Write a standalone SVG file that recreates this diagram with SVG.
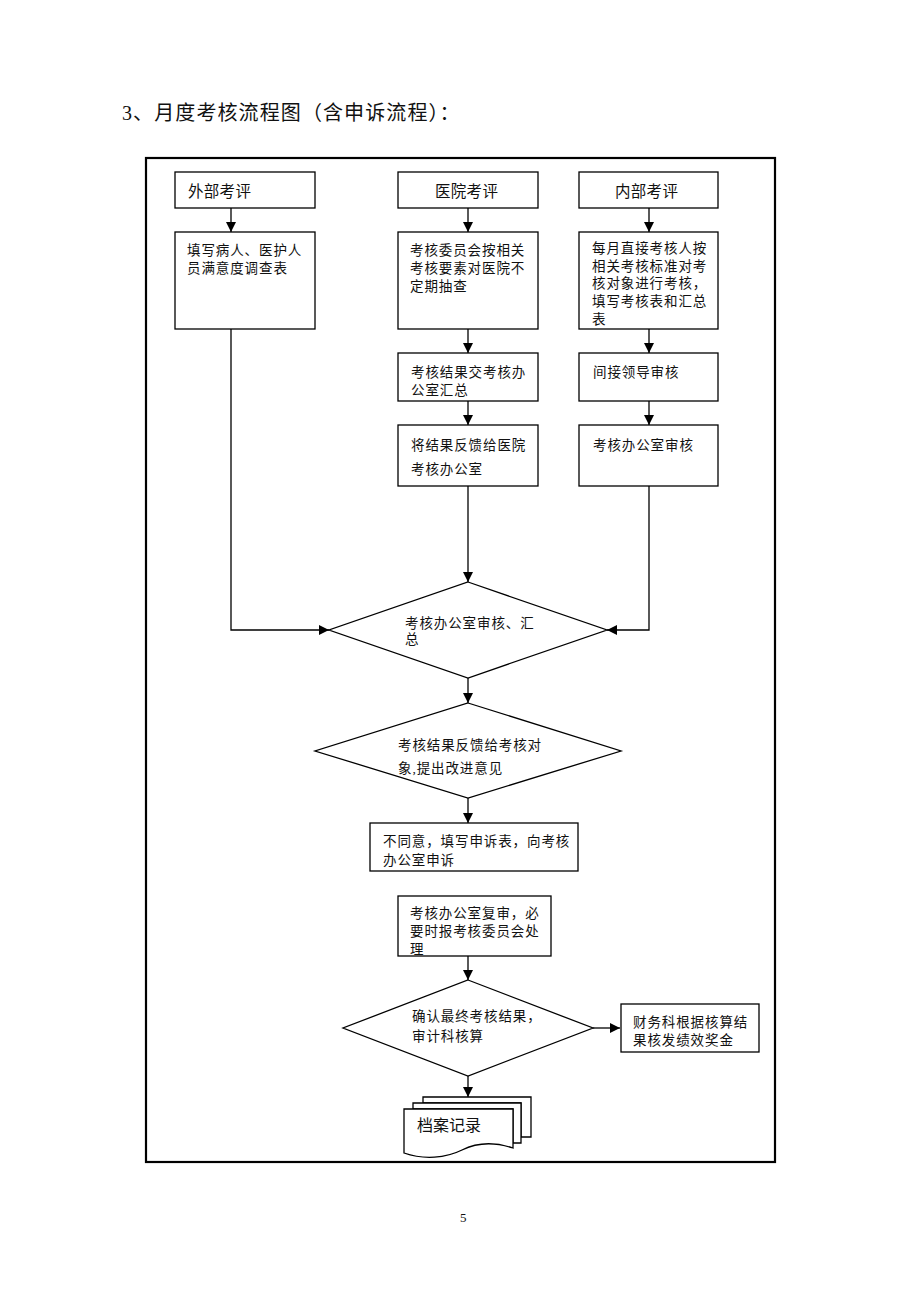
<svg xmlns="http://www.w3.org/2000/svg" width="920" height="1302" viewBox="0 0 920 1302">
<style>
.box{fill:#fff;stroke:#000;stroke-width:1.3}
.frame{fill:none;stroke:#000;stroke-width:2.2}
.ln{fill:none;stroke:#000;stroke-width:1.3}
.t{font-family:"Liberation Serif","Noto Sans CJK SC",serif;font-size:13.5px;letter-spacing:0.9px;fill:#111}
.h{font-family:"Liberation Serif","Noto Sans CJK SC",serif;font-size:15.5px;letter-spacing:0.3px;fill:#111}
.title{font-family:"Liberation Serif","Noto Sans CJK SC",serif;font-size:20px;letter-spacing:1.1px;fill:#111}
</style>
<defs>
<marker id="ah" viewBox="0 0 10 10" refX="10" refY="5" markerWidth="10" markerHeight="10" markerUnits="userSpaceOnUse" orient="auto">
<path d="M0,0 L10,5 L0,10 Z" fill="#000"/>
</marker>
</defs>
<rect width="920" height="1302" fill="#fff"/>
<text class="title" x="122" y="120">3、月度考核流程图（含申诉流程）：</text>
<rect class="frame" x="146" y="158" width="629" height="1004"/>

<g id="connectors">
<line class="ln" x1="231" y1="208" x2="231" y2="232" marker-end="url(#ah)"/>
<line class="ln" x1="468" y1="208" x2="468" y2="232" marker-end="url(#ah)"/>
<line class="ln" x1="649" y1="208" x2="649" y2="232" marker-end="url(#ah)"/>
<line class="ln" x1="468" y1="329" x2="468" y2="353" marker-end="url(#ah)"/>
<line class="ln" x1="649" y1="329" x2="649" y2="353" marker-end="url(#ah)"/>
<line class="ln" x1="468" y1="401" x2="468" y2="425" marker-end="url(#ah)"/>
<line class="ln" x1="649" y1="401" x2="649" y2="425" marker-end="url(#ah)"/>
<polyline class="ln" points="231,329 231,630 329,630" marker-end="url(#ah)"/>
<polyline class="ln" points="649,486 649,630 607,630" marker-end="url(#ah)"/>
<line class="ln" x1="468" y1="486" x2="468" y2="582" marker-end="url(#ah)"/>
<line class="ln" x1="468" y1="678" x2="468" y2="703" marker-end="url(#ah)"/>
<line class="ln" x1="468" y1="798" x2="468" y2="823" marker-end="url(#ah)"/>
<line class="ln" x1="468" y1="956" x2="468" y2="980" marker-end="url(#ah)"/>
<line class="ln" x1="593" y1="1028" x2="620" y2="1028" marker-end="url(#ah)"/>
<line class="ln" x1="468" y1="1076" x2="468" y2="1097" marker-end="url(#ah)"/>
</g>

<g id="n-waibu"><rect class="box" x="175" y="172" width="140" height="36"/><text class="h" x="188" y="197">外部考评</text></g>
<g id="n-yiyuan"><rect class="box" x="398" y="172" width="140" height="36"/><text class="h" x="435" y="197">医院考评</text></g>
<g id="n-neibu"><rect class="box" x="579" y="172" width="139" height="36"/><text class="h" x="615" y="197">内部考评</text></g>

<g id="n-tianxie"><rect class="box" x="175" y="232" width="140" height="97"/>
<text class="t" x="187" y="255">填写病人、医护人</text>
<text class="t" x="187" y="273">员满意度调查表</text></g>

<g id="n-weiyuanhui"><rect class="box" x="398" y="232" width="140" height="97"/>
<text class="t" x="410" y="255">考核委员会按相关</text>
<text class="t" x="410" y="273">考核要素对医院不</text>
<text class="t" x="410" y="291">定期抽查</text></g>

<g id="n-meiyue"><rect class="box" x="579" y="232" width="139" height="97"/>
<text class="t" x="592" y="253">每月直接考核人按</text>
<text class="t" x="592" y="271">相关考核标准对考</text>
<text class="t" x="592" y="288">核对象进行考核，</text>
<text class="t" x="592" y="306">填写考核表和汇总</text>
<text class="t" x="592" y="324">表</text></g>

<g id="n-jieguo"><rect class="box" x="398" y="353" width="140" height="48"/>
<text class="t" x="411" y="377">考核结果交考核办</text>
<text class="t" x="411" y="395">公室汇总</text></g>

<g id="n-jianjie"><rect class="box" x="579" y="353" width="139" height="48"/>
<text class="t" x="593" y="377">间接领导审核</text></g>

<g id="n-fankui"><rect class="box" x="398" y="425" width="140" height="61"/>
<text class="t" x="411" y="450">将结果反馈给医院</text>
<text class="t" x="411" y="474">考核办公室</text></g>

<g id="n-bangongshi"><rect class="box" x="579" y="425" width="139" height="61"/>
<text class="t" x="593" y="450">考核办公室审核</text></g>

<g id="n-shenhe"><polygon class="box" points="468,582 607,630 468,678 329,630"/>
<text class="t" x="405" y="628">考核办公室审核、汇</text>
<text class="t" x="405" y="644">总</text></g>

<g id="n-fankui2"><polygon class="box" points="468,703 621,751 468,798 315,751"/>
<text class="t" x="398" y="750">考核结果反馈给考核对</text>
<text class="t" x="398" y="773">象,提出改进意见</text></g>

<g id="n-butongyi"><rect class="box" x="370" y="823" width="208" height="48"/>
<text class="t" x="383" y="846">不同意，填写申诉表，向考核</text>
<text class="t" x="383" y="865">办公室申诉</text></g>

<g id="n-fushen"><rect class="box" x="398" y="896" width="153" height="60"/>
<text class="t" x="410" y="918">考核办公室复审，必</text>
<text class="t" x="410" y="936">要时报考核委员会处</text>
<text class="t" x="410" y="954">理</text></g>

<g id="n-queren"><polygon class="box" points="468,980 593,1028 468,1076 343,1028"/>
<text class="t" x="412" y="1021">确认最终考核结果，</text>
<text class="t" x="412" y="1041">审计科核算</text></g>

<g id="n-caiwu"><rect class="box" x="621" y="1004" width="138" height="48"/>
<text class="t" x="633" y="1027">财务科根据核算结</text>
<text class="t" x="633" y="1045">果核发绩效奖金</text></g>

<g id="n-dangan">
<path class="box" d="M423,1097 H531 V1137 H521 V1103 H423 Z"/>
<path class="box" d="M413,1103 H521 V1143 H513 V1109 H413 Z"/>
<path class="box" d="M404,1109 H513 V1148 C495,1142 478,1142 462,1150 C446,1158 424,1160 404,1153 Z"/>
<text x="417" y="1131" style="font-family:'Liberation Serif','Noto Sans CJK SC',serif;font-size:16px;fill:#111">档案记录</text>
</g>

<text x="460" y="1222" style="font-family:'Liberation Serif',serif;font-size:13px;fill:#111">5</text>
</svg>
